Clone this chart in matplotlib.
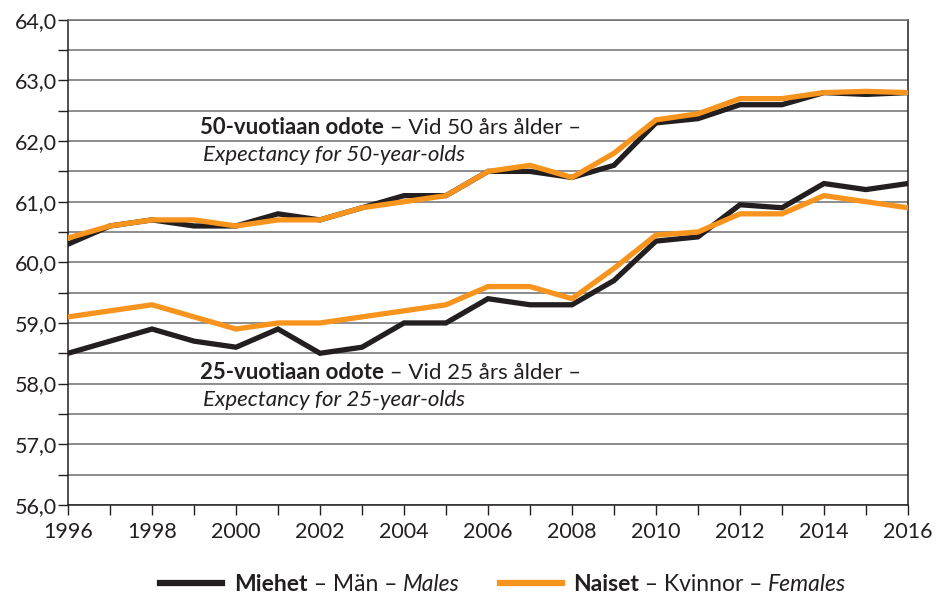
import matplotlib.pyplot as plt
from matplotlib.lines import Line2D
from matplotlib.ticker import MultipleLocator, FuncFormatter

plt.rcParams['font.family'] = ['Lato', 'DejaVu Sans']

years = list(range(1996, 2017))

men_50 = [60.3, 60.6, 60.7, 60.6, 60.6, 60.8, 60.7, 60.9, 61.1, 61.1, 61.5,
          61.5, 61.4, 61.6, 62.3, 62.37, 62.6, 62.6, 62.8, 62.77, 62.8]
women_50 = [60.4, 60.6, 60.7, 60.7, 60.6, 60.7, 60.7, 60.9, 61.0, 61.1, 61.5,
            61.6, 61.4, 61.8, 62.35, 62.45, 62.7, 62.7, 62.8, 62.82, 62.8]
men_25 = [58.5, 58.7, 58.9, 58.7, 58.6, 58.9, 58.5, 58.6, 59.0, 59.0, 59.4,
          59.3, 59.3, 59.7, 60.35, 60.42, 60.95, 60.9, 61.3, 61.2, 61.3]
women_25 = [59.1, 59.2, 59.3, 59.1, 58.9, 59.0, 59.0, 59.1, 59.2, 59.3, 59.6,
            59.6, 59.4, 59.9, 60.45, 60.5, 60.8, 60.8, 61.1, 61.0, 60.9]

black = "#231f20"
orange = "#f7941d"
grid_col = "#6d6e71"

fig = plt.figure(figsize=(9.37, 6.01), dpi=100)
ax = fig.add_axes([0.0726, 0.160, 0.8964, 0.807])

ax.plot(years, men_50, color=black, lw=3.8, solid_joinstyle="miter", zorder=3)
ax.plot(years, women_50, color=orange, lw=3.8, solid_joinstyle="miter", zorder=4)
ax.plot(years, men_25, color=black, lw=3.8, solid_joinstyle="miter", zorder=3)
ax.plot(years, women_25, color=orange, lw=3.8, solid_joinstyle="miter", zorder=4)

ax.set_xlim(1996, 2016)
ax.set_ylim(56, 64)
ax.xaxis.set_major_locator(MultipleLocator(2))
ax.xaxis.set_minor_locator(MultipleLocator(1))
ax.yaxis.set_major_locator(MultipleLocator(1))
ax.yaxis.set_minor_locator(MultipleLocator(0.5))
ax.yaxis.set_major_formatter(FuncFormatter(lambda v, p: f"{v:.1f}".replace(".", ",")))
ax.grid(True, which="both", axis="y", color=grid_col, lw=1.1, zorder=1)
ax.tick_params(axis="both", which="both", direction="out", length=7, width=1, color=black,
               labelsize=15.5, labelcolor=black)
ax.tick_params(axis="x", pad=5)
ax.tick_params(axis="y", pad=1)
for s in ax.spines.values():
    s.set_color(black)
    s.set_linewidth(1.1)
ax.spines["top"].set_color(grid_col)


def chain(parts, x, y, coords, size=16):
    # place text pieces one after another
    prev = None
    for txt, weight, style in parts:
        if prev is None:
            prev = ax.annotate(txt, xy=(x, y), xycoords=coords, fontsize=size,
                               fontweight=weight, fontstyle=style, color=black,
                               va="baseline", ha="left", zorder=5)
        else:
            prev = ax.annotate(txt, xy=(1, 0), xycoords=prev, fontsize=size,
                               fontweight=weight, fontstyle=style, color=black,
                               va="bottom", ha="left", zorder=5)
    return prev


def px(xp, yp):
    return (xp / 937, 1 - yp / 601)


chain([("50-vuotiaan odote", "bold", "normal"), (" – Vid 50 års ålder –", "normal", "normal")],
      *px(200, 134), "figure fraction")
chain([("Expectancy for 50-year-olds", "normal", "italic")], *px(203, 161), "figure fraction")
chain([("25-vuotiaan odote", "bold", "normal"), (" – Vid 25 års ålder –", "normal", "normal")],
      *px(200, 379), "figure fraction")
chain([("Expectancy for 25-year-olds", "normal", "italic")], *px(203, 406), "figure fraction")

# legend
fig.add_artist(Line2D([160 / 937, 222 / 937], [1 - 583 / 601] * 2, color=black, lw=4.5,
                      transform=fig.transFigure))
fig.add_artist(Line2D([500 / 937, 562 / 937], [1 - 583 / 601] * 2, color=orange, lw=4.5,
                      transform=fig.transFigure))
chain([("Miehet", "bold", "normal"), (" – Män – ", "normal", "normal"), ("Males", "normal", "italic")],
      *px(234, 591), "figure fraction", size=16.5)
chain([("Naiset", "bold", "normal"), (" – Kvinnor – ", "normal", "normal"), ("Females", "normal", "italic")],
      *px(573, 591), "figure fraction", size=16.5)

fig.savefig("out.png", dpi=100)
